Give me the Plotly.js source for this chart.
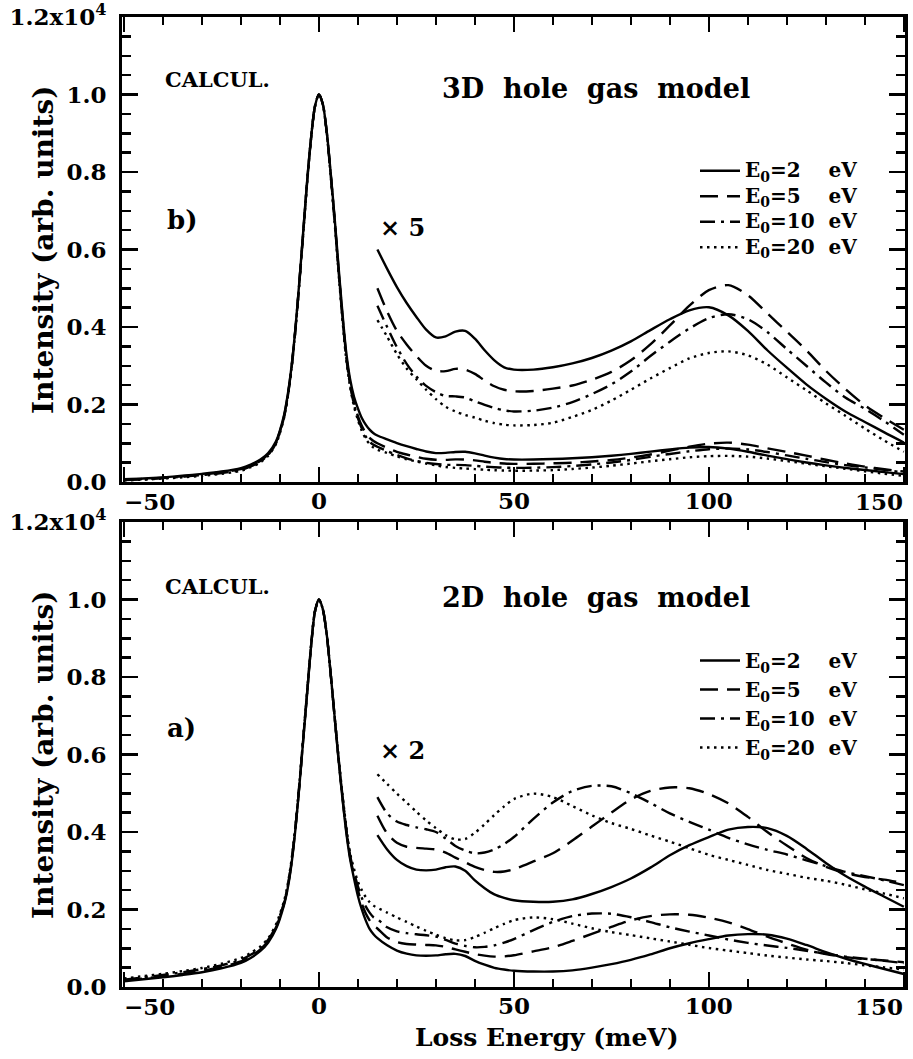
<!DOCTYPE html>
<html>
<head>
<meta charset="utf-8">
<script src="https://cdn.plot.ly/plotly-3.0.1.min.js"></script>
<style>
  html, body { margin: 0; padding: 0; background: #fff; }
  #chart { width: 913px; height: 1059px; }
</style>
</head>
<body>
<div id="chart"></div>
<script>
// ---------------- DATA ----------------
// Loss energy grid (meV) for the elastic peak region
const xPeak = [-50,-45,-40,-35,-30,-25,-20,-17.5,-15,-13,-11,-9,-8,-7,-6,-5,-4,-3,-2,-1,0,1,2,3,4,5,6,7,8,9,10,11,12,13,14];
// Loss energy grid (meV) for the loss region (where the magnified curves are drawn)
const xLoss = [15,17.5,20,22.5,25,27.5,30,32.5,35,37.5,40,42.5,45,47.5,50,55,60,65,70,75,80,85,90,95,100,105,110,115,120,125,130,135,140,145,150];

const seriesNames = ['E<sub>0</sub>=2', 'E<sub>0</sub>=5', 'E<sub>0</sub>=10', 'E<sub>0</sub>=20'];
const seriesUnit = 'eV';

// ---- Panel b) 3D hole gas model : intensity (x10^4) ----
const b_peak_E2  = [0.007,0.009,0.012,0.016,0.021,0.027,0.036,0.045,0.058,0.075,0.105,0.17,0.225,0.30,0.40,0.52,0.65,0.78,0.89,0.97,1.0,0.975,0.905,0.80,0.685,0.56,0.44,0.335,0.265,0.22,0.19,0.165,0.148,0.135,0.126];
const b_peak_E5  = [0.006,0.008,0.011,0.015,0.019,0.025,0.033,0.042,0.055,0.072,0.102,0.167,0.222,0.298,0.398,0.518,0.648,0.778,0.889,0.97,1.0,0.975,0.903,0.797,0.68,0.553,0.432,0.327,0.255,0.205,0.17,0.145,0.127,0.114,0.106];
const b_peak_E10 = [0.005,0.007,0.010,0.014,0.018,0.023,0.031,0.040,0.053,0.070,0.100,0.165,0.220,0.296,0.396,0.516,0.646,0.776,0.888,0.97,1.0,0.975,0.902,0.795,0.677,0.55,0.428,0.322,0.25,0.20,0.165,0.138,0.118,0.104,0.096];
const b_peak_E20 = [0.004,0.006,0.009,0.012,0.016,0.021,0.029,0.038,0.051,0.068,0.098,0.163,0.218,0.294,0.394,0.514,0.644,0.774,0.887,0.97,1.0,0.975,0.90,0.792,0.673,0.545,0.423,0.317,0.245,0.195,0.16,0.132,0.112,0.098,0.089];
// loss region as drawn magnified (x5)
const b_mag_E2  = [0.60,0.55,0.503,0.462,0.426,0.393,0.373,0.376,0.388,0.390,0.370,0.340,0.314,0.296,0.290,0.290,0.296,0.306,0.320,0.339,0.363,0.392,0.420,0.443,0.451,0.430,0.390,0.340,0.295,0.252,0.215,0.182,0.155,0.128,0.102];
const b_mag_E5  = [0.50,0.44,0.39,0.355,0.325,0.30,0.287,0.286,0.292,0.290,0.279,0.262,0.247,0.238,0.234,0.235,0.241,0.249,0.264,0.284,0.314,0.355,0.404,0.455,0.495,0.508,0.482,0.435,0.388,0.340,0.287,0.240,0.198,0.165,0.135];
const b_mag_E10 = [0.455,0.40,0.348,0.305,0.272,0.248,0.232,0.222,0.221,0.218,0.208,0.199,0.191,0.185,0.182,0.184,0.192,0.206,0.227,0.252,0.285,0.325,0.362,0.396,0.423,0.433,0.420,0.387,0.343,0.300,0.257,0.218,0.189,0.157,0.122];
const b_mag_E20 = [0.418,0.375,0.33,0.293,0.265,0.238,0.214,0.194,0.182,0.173,0.166,0.158,0.152,0.148,0.146,0.147,0.153,0.168,0.186,0.210,0.238,0.267,0.294,0.319,0.333,0.337,0.327,0.303,0.270,0.237,0.203,0.171,0.138,0.107,0.078];
const b_magFactor = 5, b_magOffset = 0;

// ---- Panel a) 2D hole gas model ----
const a_peak_E2  = [0.015,0.020,0.025,0.031,0.038,0.048,0.062,0.075,0.093,0.115,0.15,0.21,0.255,0.32,0.41,0.52,0.64,0.76,0.88,0.97,1.0,0.975,0.91,0.81,0.70,0.59,0.49,0.40,0.33,0.28,0.235,0.20,0.172,0.150,0.136];
const a_peak_E5  = [0.017,0.022,0.028,0.034,0.042,0.052,0.066,0.079,0.097,0.119,0.154,0.213,0.258,0.323,0.412,0.522,0.642,0.762,0.881,0.97,1.0,0.975,0.91,0.81,0.70,0.592,0.493,0.405,0.335,0.29,0.25,0.215,0.19,0.172,0.158];
const a_peak_E10 = [0.019,0.025,0.031,0.038,0.046,0.056,0.070,0.083,0.100,0.122,0.157,0.216,0.26,0.326,0.414,0.524,0.644,0.764,0.882,0.97,1.0,0.975,0.91,0.81,0.70,0.595,0.497,0.41,0.34,0.295,0.26,0.23,0.208,0.192,0.18];
const a_peak_E20 = [0.022,0.028,0.034,0.041,0.049,0.060,0.075,0.088,0.105,0.126,0.162,0.22,0.265,0.33,0.417,0.526,0.646,0.766,0.883,0.97,1.0,0.975,0.91,0.81,0.70,0.598,0.50,0.415,0.345,0.305,0.272,0.25,0.232,0.219,0.21];
// loss region as drawn magnified (x2, shifted up)
const a_mag_E2  = [0.392,0.355,0.328,0.312,0.303,0.301,0.303,0.309,0.311,0.300,0.275,0.255,0.239,0.230,0.224,0.220,0.220,0.226,0.240,0.258,0.280,0.308,0.340,0.366,0.387,0.406,0.413,0.410,0.390,0.357,0.320,0.287,0.259,0.233,0.207];
const a_mag_E5  = [0.442,0.396,0.372,0.362,0.359,0.357,0.355,0.347,0.334,0.322,0.310,0.302,0.297,0.298,0.304,0.324,0.345,0.378,0.414,0.450,0.484,0.506,0.515,0.513,0.498,0.474,0.439,0.400,0.365,0.333,0.310,0.294,0.284,0.277,0.268];
const a_mag_E10 = [0.49,0.448,0.427,0.418,0.412,0.407,0.400,0.383,0.364,0.352,0.345,0.347,0.355,0.369,0.387,0.434,0.476,0.506,0.519,0.518,0.500,0.475,0.448,0.426,0.406,0.385,0.368,0.354,0.342,0.327,0.312,0.297,0.286,0.275,0.263];
const a_mag_E20 = [0.549,0.524,0.499,0.476,0.452,0.430,0.410,0.392,0.381,0.382,0.398,0.420,0.444,0.466,0.485,0.499,0.490,0.467,0.443,0.423,0.408,0.391,0.375,0.358,0.341,0.328,0.315,0.302,0.292,0.282,0.274,0.264,0.252,0.241,0.229];
const a_magFactor = 2, a_magOffset = 0.14;

// ---------------- STYLE ----------------
const FONT = 'DejaVu Serif, Liberation Serif, serif';
const dashes = ['solid', '18px,9px', '15px,6px,3px,6px', '2.5px,4.5px'];
const LW = 2.4;
const GAP = ['&nbsp;&nbsp;&nbsp;&nbsp;', '&nbsp;&nbsp;&nbsp;&nbsp;', '&nbsp;&nbsp;', '&nbsp;&nbsp;'];

function buildPanel(peaks, mags, factor, offset, xa, ya, legendId) {
  const traces = [];
  for (let i = 0; i < 4; i++) {
    const lowY = peaks[i].concat(mags[i].map(v => (v - offset) / factor));
    const lowX = xPeak.concat(xLoss);
    traces.push({
      x: lowX, y: lowY, xaxis: xa, yaxis: ya, mode: 'lines', type: 'scatter',
      line: {color: '#000', width: LW, dash: dashes[i], shape: 'spline', smoothing: 0.8},
      name: '<span style="font-size:20px">' + seriesNames[i] + GAP[i] + seriesUnit + '</span>',
      legend: legendId, showlegend: true, hoverinfo: 'skip'
    });
    traces.push({
      x: xLoss, y: mags[i], xaxis: xa, yaxis: ya, mode: 'lines', type: 'scatter',
      line: {color: '#000', width: LW, dash: dashes[i], shape: 'spline', smoothing: 0.8},
      showlegend: false, hoverinfo: 'skip'
    });
  }
  return traces;
}

const data = []
  .concat(buildPanel([b_peak_E2,b_peak_E5,b_peak_E10,b_peak_E20],[b_mag_E2,b_mag_E5,b_mag_E10,b_mag_E20], b_magFactor, b_magOffset, 'x', 'y', 'legend'))
  .concat(buildPanel([a_peak_E2,a_peak_E5,a_peak_E10,a_peak_E20],[a_mag_E2,a_mag_E5,a_mag_E10,a_mag_E20], a_magFactor, a_magOffset, 'x2', 'y2', 'legend2'));

const yTickVals = [0, 0.2, 0.4, 0.6, 0.8, 1.0, 1.2];
const yTickText = ['0.0', '0.2', '0.4', '0.6', '0.8', '1.0', '1.2x10<sup>4</sup>'];
const xTickVals = [-50, 0, 50, 100, 150];
const xTickText = ['', '0', '50', '100', ''];

const tickFont = {family: FONT, size: 23, color: '#000', weight: 'bold'};

function xAxis(anchor) {
  return {
    anchor: anchor, range: [-50.5, 150.3], showgrid: false, zeroline: false,
    showline: true, linewidth: 3, linecolor: '#000', mirror: 'ticks',
    ticks: 'inside', ticklen: 15, tickwidth: 2.5, tickcolor: '#000',
    tickmode: 'array', tickvals: xTickVals, ticktext: xTickText,
    tickfont: tickFont, ticklabelstandoff: -4, ticklabeloverflow: 'allow',
    minor: {dtick: 10, tick0: 0, ticks: 'inside', ticklen: 8, tickwidth: 2.5, tickcolor: '#000', showgrid: false},
    fixedrange: true
  };
}
function yAxis(anchor, domain) {
  return {
    anchor: anchor, domain: domain, range: [0, 1.2], showgrid: false, zeroline: false,
    showline: true, linewidth: 3, linecolor: '#000', mirror: 'ticks',
    ticks: 'inside', ticklen: 16, tickwidth: 2.5, tickcolor: '#000',
    tickmode: 'array', tickvals: yTickVals, ticktext: yTickText,
    tickfont: tickFont, ticklabelstandoff: 8, ticklabeloverflow: 'allow',
    minor: {dtick: 0.05, tick0: 0, ticks: 'inside', ticklen: 9, tickwidth: 2.5, tickcolor: '#000', showgrid: false},
    fixedrange: true
  };
}

const annFont = (s) => ({family: FONT, size: s, color: '#000', weight: 'bold'});
function ann(text, x, y, size, xanchor, extra) {
  return Object.assign({text: text, xref: 'paper', yref: 'paper', x: x, y: y, showarrow: false,
    xanchor: xanchor || 'left', yanchor: 'middle', font: annFont(size)}, extra || {});
}
// pixel helpers for annotation placement (plot area: x 122..905, y 17..987)
const PX = (px) => (px - 122) / 783;
const PY = (py) => (987 - py) / 970;

const annotations = [
  ann('CALCUL.', PX(163), PY(79), 21),
  ann('3D&nbsp; hole&nbsp; gas&nbsp; model', PX(440), PY(89), 27),
  ann('b)', PX(165), PY(220), 26),
  ann('× 5', PX(378), PY(227), 24),
  ann('CALCUL.', PX(163), PY(586), 21),
  ann('2D&nbsp; hole&nbsp; gas&nbsp; model', PX(440), PY(597), 27),
  ann('a)', PX(165), PY(728), 26),
  ann('× 2', PX(378), PY(750), 24),
  ann('Intensity (arb. units)', PX(43), PY(250), 28, 'center', {textangle: -90}),
  ann('Intensity (arb. units)', PX(43), PY(755), 28, 'center', {textangle: -90}),
  ann('Loss Energy (meV)', PX(547), PY(1037), 25, 'center'),
  // end tick labels, kept inside the frame as in the original
  {text: '−50', xref: 'x', yref: 'paper', x: -50.5, y: PY(486), xanchor: 'left', yanchor: 'top', showarrow: false, font: annFont(23)},
  {text: '150', xref: 'x', yref: 'paper', x: 150.3, y: PY(486), xanchor: 'right', yanchor: 'top', showarrow: false, font: annFont(23)},
  {text: '−50', xref: 'x2', yref: 'paper', x: -50.5, y: PY(991), xanchor: 'left', yanchor: 'top', showarrow: false, font: annFont(23)},
  {text: '150', xref: 'x2', yref: 'paper', x: 150.3, y: PY(991), xanchor: 'right', yanchor: 'top', showarrow: false, font: annFont(23)}
];

const legendCommon = {
  bgcolor: 'rgba(0,0,0,0)', borderwidth: 0, xanchor: 'left', yanchor: 'top',
  tracegroupgap: 0, itemclick: false, itemdoubleclick: false, itemwidth: 40
};

const layout = {
  width: 913, height: 1059,
  margin: {l: 122, r: 8, t: 17, b: 72, pad: 0},
  paper_bgcolor: '#fff', plot_bgcolor: '#fff',
  font: {family: FONT, color: '#000'},
  xaxis: xAxis('y'),
  yaxis: yAxis('x', [PY(482), 1]),
  xaxis2: xAxis('y2'),
  yaxis2: yAxis('x2', [0, PY(522)]),
  legend: Object.assign({x: PX(695), y: PY(153), font: {family: FONT, size: 17.3, color: '#000', weight: 'bold'}}, legendCommon),
  legend2: Object.assign({x: PX(695), y: PY(641), font: {family: FONT, size: 20, color: '#000', weight: 'bold'}}, legendCommon),
  annotations: annotations,
  showlegend: true
};

Plotly.newPlot('chart', data, layout, {staticPlot: true, displayModeBar: false});
</script>
</body>
</html>
